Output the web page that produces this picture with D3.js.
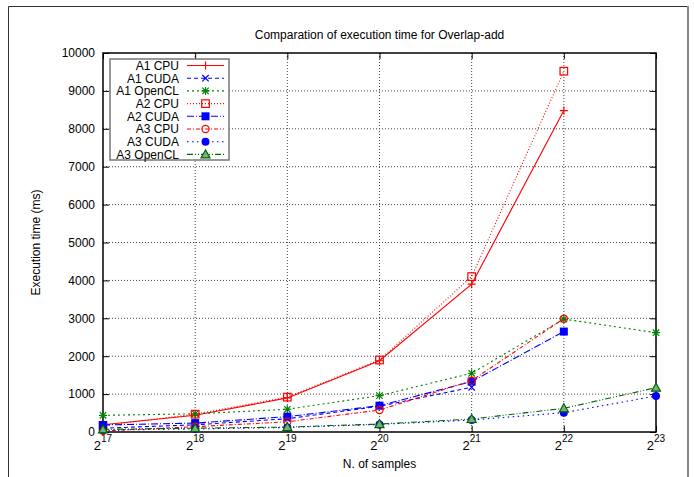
<!DOCTYPE html>
<html><head><meta charset="utf-8">
<script src="https://cdn.jsdelivr.net/npm/d3@7"></script>
<style>
html,body{margin:0;padding:0;background:#fff;}
svg{display:block;font-family:"Liberation Sans",Arial,Helvetica,sans-serif;}
</style></head>
<body><svg id="c" width="694" height="477"></svg>
<script>
const exponents = [17, 18, 19, 20, 21, 22, 23];
const yTicks = [0, 1000, 2000, 3000, 4000, 5000, 6000, 7000, 8000, 9000, 10000];
const seriesNames = ["A1 CPU", "A1 CUDA", "A1 OpenCL", "A2 CPU", "A2 CUDA", "A3 CPU", "A3 CUDA", "A3 OpenCL"];
const a1Cpu    = [190, 440, 900, 1880, 3900, 8480, null];
const a1Cuda   = [100, 190, 350, 680, 1180, null, null];
const a1OpenCL = [440, 480, 600, 960, 1550, 2980, 2620];
const a2Cpu    = [170, 470, 920, 1900, 4100, 9520, null];
const a2Cuda   = [185, 235, 405, 695, 1330, 2650, null];
const a3Cpu    = [30, 140, 270, 580, 1355, 2990, null];
const a3Cuda   = [50, 80, 120, 200, 316, 510, 950];
const a3OpenCL = [70, 100, 130, 210, 343, 625, 1170];
const seriesValues = [a1Cpu, a1Cuda, a1OpenCL, a2Cpu, a2Cuda, a3Cpu, a3Cuda, a3OpenCL];

const styles = [
  {color:"#ff0000", dash:null,          marker:"plus"},
  {color:"#0000ff", dash:"4,3",         marker:"cross"},
  {color:"#008000", dash:"2,3",         marker:"star"},
  {color:"#ff0000", dash:"1,2",         marker:"square"},
  {color:"#0000ff", dash:"7,2,1,2",     marker:"squareFilled"},
  {color:"#ff0000", dash:"4,2,1,2",     marker:"circle"},
  {color:"#0000ff", dash:"1.5,3.5",     marker:"circleFilled"},
  {color:"#006400", dash:"6,2,1,2,1,2", marker:"triangle"}
];

const svg = d3.select("#c");
const L = 103, R = 656, T = 53, B = 432;
const x = d3.scaleLinear().domain([17, 23]).range([L, R]);
const y = d3.scaleLinear().domain([0, 10000]).range([B, T]);

// outer frame
svg.append("line").attr("x1",8.5).attr("y1",6.5).attr("x2",688).attr("y2",6.5).attr("stroke","#333").attr("stroke-width",1);
svg.append("line").attr("x1",8.5).attr("y1",6.5).attr("x2",8.5).attr("y2",477).attr("stroke","#333").attr("stroke-width",1);
svg.append("line").attr("x1",688).attr("y1",6).attr("x2",688).attr("y2",477).attr("stroke","#888").attr("stroke-width",2);

// grid
const grid = svg.append("g");
yTicks.slice(1, -1).forEach(v => {
  grid.append("line").attr("x1",L).attr("x2",R).attr("y1",y(v)).attr("y2",y(v))
    .attr("stroke","#444").attr("stroke-width",1).attr("stroke-dasharray","1,2");
});
exponents.slice(1, -1).forEach(e => {
  grid.append("line").attr("x1",x(e)).attr("x2",x(e)).attr("y1",T).attr("y2",B)
    .attr("stroke","#444").attr("stroke-width",1).attr("stroke-dasharray","1,2");
});

// axes (d3 axes with inward ticks)
const tickLen = 6;
const yAxisL = svg.append("g").attr("transform",`translate(${L},0)`)
  .call(d3.axisLeft(y).tickValues(yTicks).tickSize(-tickLen).tickPadding(8).tickFormat(d3.format("d")));
const yAxisR = svg.append("g").attr("transform",`translate(${R},0)`)
  .call(d3.axisRight(y).tickValues(yTicks).tickSize(-tickLen).tickFormat(""));
const xAxisB = svg.append("g").attr("transform",`translate(0,${B})`)
  .call(d3.axisBottom(x).tickValues(exponents).tickSize(-tickLen).tickFormat(""));
const xAxisT = svg.append("g").attr("transform",`translate(0,${T})`)
  .call(d3.axisTop(x).tickValues(exponents).tickSize(-tickLen).tickFormat(""));
[yAxisL, yAxisR, xAxisB, xAxisT].forEach(g => {
  g.select(".domain").remove();
  g.selectAll(".tick line").attr("stroke","#000").attr("stroke-width",1);
});
yAxisL.selectAll(".tick text").attr("font-size",12).attr("fill","#000")
  .attr("font-family","'Liberation Sans',Arial,sans-serif");

// x tick labels: 2^n
const xl = svg.append("g");
exponents.forEach(e => {
  const t = xl.append("text").attr("x", x(e)).attr("y", 450).attr("text-anchor","middle")
    .attr("font-size",13).attr("fill","#000");
  t.append("tspan").text("2");
  t.append("tspan").attr("dy",-8).attr("font-size",10).text(e);
});

// plot border
svg.append("rect").attr("x",L).attr("y",T).attr("width",R-L).attr("height",B-T)
  .attr("fill","none").attr("stroke","#000").attr("stroke-width",1.5);

// title and labels
svg.append("text").attr("x",(L+R)/2).attr("y",39).attr("text-anchor","middle")
  .attr("font-size",12).text("Comparation of execution time for Overlap-add");
svg.append("text").attr("x",(L+R)/2).attr("y",468).attr("text-anchor","middle")
  .attr("font-size",12).text("N. of samples");
svg.append("text").attr("transform",`translate(40,${(T+B)/2}) rotate(-90)`).attr("text-anchor","middle")
  .attr("font-size",12).text("Execution time (ms)");

function drawMarker(g, cx, cy, type, color) {
  const s = 4;
  if (type === "plus" || type === "star") {
    g.append("path").attr("d",`M${cx-s},${cy}H${cx+s}M${cx},${cy-s}V${cy+s}`).attr("stroke",color).attr("stroke-width",1.2).attr("fill","none");
  }
  if (type === "cross" || type === "star") {
    const k = 3.2;
    g.append("path").attr("d",`M${cx-k},${cy-k}L${cx+k},${cy+k}M${cx-k},${cy+k}L${cx+k},${cy-k}`).attr("stroke",color).attr("stroke-width",1.2).attr("fill","none");
  }
  if (type === "square") {
    g.append("rect").attr("x",cx-3.8).attr("y",cy-3.8).attr("width",7.6).attr("height",7.6).attr("fill","none").attr("stroke",color).attr("stroke-width",1.2);
  }
  if (type === "squareFilled") {
    g.append("rect").attr("x",cx-4).attr("y",cy-4).attr("width",8).attr("height",8).attr("fill",color);
  }
  if (type === "circle") {
    g.append("circle").attr("cx",cx).attr("cy",cy).attr("r",3.6).attr("fill","none").attr("stroke",color).attr("stroke-width",1.2);
  }
  if (type === "circleFilled") {
    g.append("circle").attr("cx",cx).attr("cy",cy).attr("r",4).attr("fill",color);
  }
  if (type === "triangle") {
    g.append("path").attr("d",`M${cx},${cy-4.5}L${cx+4.5},${cy+3.5}L${cx-4.5},${cy+3.5}Z`).attr("fill","#7aae7a").attr("stroke",color).attr("stroke-width",1.2);
  }
}

// series
const line = d3.line().defined(d => d.v !== null).x(d => x(d.e)).y(d => y(d.v));
const plot = svg.append("g");
seriesValues.forEach((vals, i) => {
  const st = styles[i];
  const pts = exponents.map((e, j) => ({e, v: vals[j]}));
  plot.append("path").datum(pts).attr("d", line).attr("fill","none")
    .attr("stroke", st.color).attr("stroke-width",1.1)
    .attr("stroke-dasharray", st.dash);
  const mg = plot.append("g");
  pts.filter(p => p.v !== null).forEach(p => drawMarker(mg, x(p.e), y(p.v), st.marker, st.color));
});

// legend
const lg = svg.append("g");
lg.append("rect").attr("x",110).attr("y",59).attr("width",119).attr("height",101)
  .attr("fill","#fff").attr("stroke","#777").attr("stroke-width",1.5);
seriesNames.forEach((name, i) => {
  const cy = 65.5 + i * 12.7;
  const st = styles[i];
  lg.append("text").attr("x",179).attr("y",cy+4.3).attr("text-anchor","end").attr("font-size",12).text(name);
  lg.append("line").attr("x1",187).attr("x2",224).attr("y1",cy).attr("y2",cy)
    .attr("stroke",st.color).attr("stroke-width",1.1).attr("stroke-dasharray",st.dash);
  drawMarker(lg, 205.5, cy, st.marker, st.color);
});
</script></body></html>
